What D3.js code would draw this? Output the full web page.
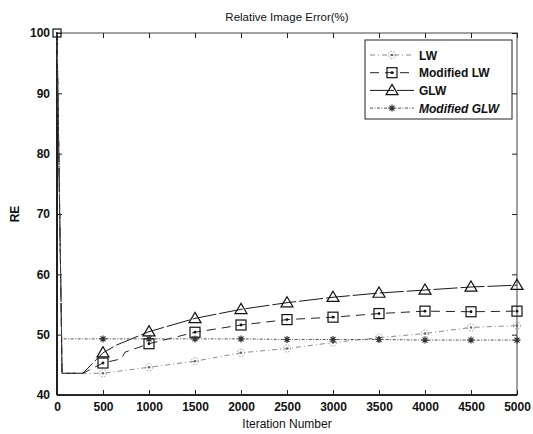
<!DOCTYPE html>
<html>
<head>
<meta charset="utf-8">
<script src="https://cdn.jsdelivr.net/npm/d3@7"></script>
<style>
  html, body { margin: 0; padding: 0; background: #fff; }
  svg { display: block; font-family: "Liberation Sans", Arial, sans-serif; }
</style>
</head>
<body>
<svg id="chart" width="533" height="434"></svg>
<script>
// Iteration at which each curve was sampled, and RE (%) values
const lwIter   = [0, 50, 55, 280, 500, 1000, 1500, 2000, 2500, 3000, 3500, 4000, 4500, 5000];
const lwVals   = [100, 49.3, 43.6, 43.6, 43.6, 44.6, 45.6, 47.0, 47.7, 48.7, 49.5, 50.2, 51.2, 51.5];

const mlwIter  = [0, 50, 55, 280, 500, 700, 740, 1000, 1500, 2000, 2500, 3000, 3500, 4000, 4500, 5000];
const mlwVals  = [100, 49.3, 43.6, 43.6, 45.3, 46.0, 47.1, 48.5, 50.4, 51.6, 52.5, 52.9, 53.5, 53.9, 53.8, 53.9];

const glwIter  = [0, 50, 55, 280, 500, 650, 1000, 1500, 2000, 2500, 3000, 3500, 4000, 4500, 5000];
const glwVals  = [100, 49.3, 43.6, 43.6, 47.0, 48.3, 50.5, 52.7, 54.2, 55.3, 56.2, 56.9, 57.4, 57.9, 58.2];

const mglwIter = [0, 50, 500, 1000, 1500, 2000, 2500, 3000, 3500, 4000, 4500, 5000];
const mglwVals = [100, 49.3, 49.3, 49.3, 49.3, 49.3, 49.2, 49.2, 49.2, 49.1, 49.1, 49.1];

const markerIter = [500, 1000, 1500, 2000, 2500, 3000, 3500, 4000, 4500, 5000];

const xTicks = [0, 500, 1000, 1500, 2000, 2500, 3000, 3500, 4000, 4500, 5000];
const yTicks = [40, 50, 60, 70, 80, 90, 100];

const seriesNames = ["LW", "Modified LW", "GLW", "Modified GLW"];

const svg = d3.select("#chart");
const pLeft = 57, pRight = 517, pTop = 33, pBottom = 395;

const x = d3.scaleLinear().domain([0, 5000]).range([pLeft, pRight]);
const y = d3.scaleLinear().domain([40, 100]).range([pBottom, pTop]);

const series = [
  { name: seriesNames[0], iter: lwIter,   vals: lwVals,   color: "#8a8a8a", dash: "5,3,1,3", marker: "lw",   width: 1 },
  { name: seriesNames[1], iter: mlwIter,  vals: mlwVals,  color: "#222",    dash: "9,6",     marker: "square", width: 1 },
  { name: seriesNames[2], iter: glwIter,  vals: glwVals,  color: "#1a1a1a", dash: "24,3",    marker: "tri",  width: 1 },
  { name: seriesNames[3], iter: mglwIter, vals: mglwVals, color: "#555",    dash: "3,1.5,1,1.5", marker: "star", width: 1 }
];

// value of a series at a given iteration, taken from its sampled points
function valueAt(s, it) {
  const i = s.iter.indexOf(it);
  return i >= 0 ? s.vals[i] : null;
}

// plot frame
svg.append("rect")
  .attr("x", pLeft).attr("y", pTop)
  .attr("width", pRight - pLeft).attr("height", pBottom - pTop)
  .attr("fill", "none").attr("stroke", "#444").attr("stroke-width", 1);
svg.append("line").attr("x1", pLeft).attr("x2", pLeft).attr("y1", pTop).attr("y2", pBottom)
  .attr("stroke", "#000").attr("stroke-width", 1.6);
svg.append("line").attr("x1", pLeft).attr("x2", pRight).attr("y1", pBottom).attr("y2", pBottom)
  .attr("stroke", "#000").attr("stroke-width", 1.6);

// axes with inward ticks
const tickFont = g => g.selectAll("text")
  .attr("font-size", "12px").attr("font-weight", "bold").attr("fill", "#111")
  .attr("font-family", "'Liberation Sans', Arial, sans-serif");

const xAxis = svg.append("g").attr("transform", `translate(0,${pBottom})`)
  .call(d3.axisBottom(x).tickValues(xTicks).tickSizeInner(-5).tickSizeOuter(0).tickPadding(7).tickFormat(d3.format("d")));
xAxis.select(".domain").remove();
xAxis.call(tickFont);

const xTop = svg.append("g").attr("transform", `translate(0,${pTop})`)
  .call(d3.axisTop(x).tickValues(xTicks).tickSizeInner(-5).tickSizeOuter(0).tickFormat(""));
xTop.select(".domain").remove();

const yAxis = svg.append("g").attr("transform", `translate(${pLeft},0)`)
  .call(d3.axisLeft(y).tickValues(yTicks).tickSizeInner(-5).tickSizeOuter(0).tickPadding(7));
yAxis.select(".domain").remove();
yAxis.call(tickFont);

const yRight = svg.append("g").attr("transform", `translate(${pRight},0)`)
  .call(d3.axisRight(y).tickValues(yTicks).tickSizeInner(-5).tickSizeOuter(0).tickFormat(""));
yRight.select(".domain").remove();

svg.selectAll(".tick line").attr("stroke", "#222");

// titles
svg.append("text").attr("x", 287).attr("y", 21).attr("text-anchor", "middle")
  .attr("font-size", "11.5px").attr("fill", "#111").text("Relative Image Error(%)");
svg.append("text").attr("x", 287).attr("y", 428).attr("text-anchor", "middle")
  .attr("font-size", "12px").attr("fill", "#111").text("Iteration Number");
svg.append("text").attr("transform", "translate(19,214) rotate(-90)").attr("text-anchor", "middle")
  .attr("font-size", "12px").attr("font-weight", "bold").attr("fill", "#111").text("RE");

// marker drawing
function drawMarker(g, type, cx, cy, size = 1) {
  if (type === "square") {
    const h = 5 * size;
    g.append("rect").attr("x", cx - h).attr("y", cy - h).attr("width", 2 * h).attr("height", 2 * h)
      .attr("fill", "none").attr("stroke", "#111").attr("stroke-width", 1.2);
    g.append("circle").attr("cx", cx).attr("cy", cy).attr("r", 1.4 * size).attr("fill", "#111");
  } else if (type === "tri") {
    const s = 6;
    g.append("path").attr("d", `M${cx},${cy - s} L${cx + s},${cy + s * 0.7} L${cx - s},${cy + s * 0.7} Z`)
      .attr("fill", "none").attr("stroke", "#111").attr("stroke-width", 1.2);
  } else if (type === "star") {
    const r = 3.5;
    let d = "";
    for (let k = 0; k < 4; k++) {
      const a = k * Math.PI / 4;
      d += `M${cx - r * Math.cos(a)},${cy - r * Math.sin(a)} L${cx + r * Math.cos(a)},${cy + r * Math.sin(a)} `;
    }
    g.append("path").attr("d", d).attr("stroke", "#333").attr("stroke-width", 1.2).attr("fill", "none");
  } else if (type === "lw") {
    g.append("circle").attr("cx", cx).attr("cy", cy).attr("r", 3.6)
      .attr("fill", "none").attr("stroke", "#999").attr("stroke-width", 1).attr("stroke-dasharray", "1.5,1.5");
    g.append("circle").attr("cx", cx).attr("cy", cy).attr("r", 1.3).attr("fill", "#666");
  }
}

const line = d3.line().x(d => x(d[0])).y(d => y(d[1]));
const plot = svg.append("g");

series.forEach(s => {
  const pts = s.iter.map((it, i) => [it, s.vals[i]]);
  plot.append("path").datum(pts).attr("d", line)
    .attr("fill", "none").attr("stroke", s.color).attr("stroke-width", s.width)
    .attr("stroke-dasharray", s.dash);
});

series.forEach(s => {
  const g = plot.append("g");
  markerIter.forEach(it => {
    const v = valueAt(s, it);
    if (v !== null) drawMarker(g, s.marker, x(it), y(v));
  });
});

// shared starting point at iteration 0
drawMarker(plot, "square", x(mlwIter[0]), y(mlwVals[0]), 0.8);

// legend
const lg = svg.append("g");
lg.append("rect").attr("x", 365).attr("y", 40).attr("width", 147).attr("height", 79)
  .attr("fill", "#fff").attr("stroke", "#222").attr("stroke-width", 1);
series.forEach((s, i) => {
  const ly = 55 + i * 17.7;
  lg.append("line").attr("x1", 370).attr("x2", 414).attr("y1", ly).attr("y2", ly)
    .attr("stroke", s.color).attr("stroke-width", s.width).attr("stroke-dasharray", s.dash);
  drawMarker(lg, s.marker, 392, ly);
  lg.append("text").attr("x", 419).attr("y", ly + 4.5)
    .attr("font-size", "12px").attr("font-weight", "bold").attr("fill", "#111")
    .attr("font-style", i === 3 ? "italic" : "normal")
    .text(s.name);
});
</script>
</body>
</html>
